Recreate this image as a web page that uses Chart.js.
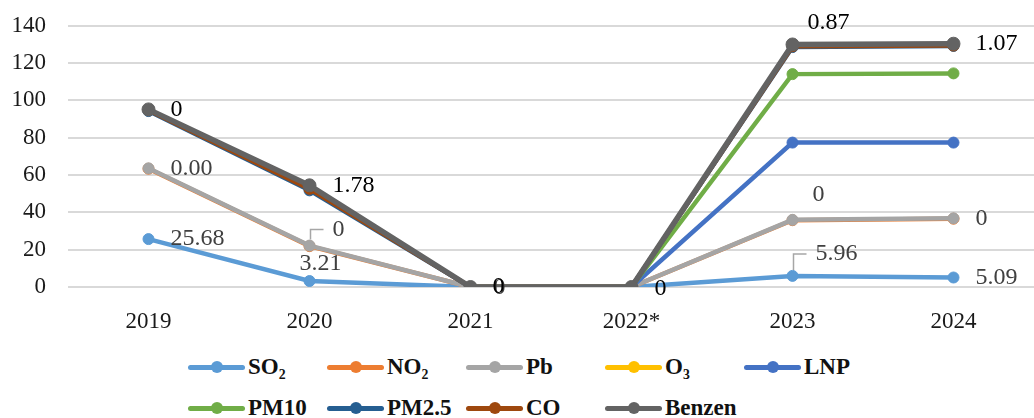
<!DOCTYPE html>
<html>
<head>
<meta charset="utf-8">
<script src="https://cdn.jsdelivr.net/npm/chart.js@4.4.0/dist/chart.umd.min.js"></script>
<style>
  body { margin: 0; background: #fff; }
  #wrap { position: relative; width: 1034px; height: 418px; overflow: hidden; }
  #chartBox { position: absolute; left: 0; top: -10px; width: 1034px; height: 345px; }
  .lg-item { position: absolute; display: flex; align-items: center; height: 30px;
             font: bold 23px "Liberation Serif", "Times New Roman", serif; color: #111; }
  .lg-line { position: relative; width: 57px; height: 5px; border-radius: 3px; margin-right: 3px; }
  .lg-dot { position: absolute; left: 23px; top: -3.5px; width: 12px; height: 12px; border-radius: 50%; }
</style>
</head>
<body>
<div id="wrap">
  <div id="chartBox"><canvas id="airChart"></canvas></div>
  <div id="legend"></div>
</div>
<script>
// data
const years = ['2019', '2020', '2021', '2022*', '2023', '2024'];
const so2 = [25.68, 3.21, 0, 0, 5.96, 5.09];
const no2 = [63.4, 21.9, 0, 0, 35.8, 36.6];
const pb = [63.6, 22.2, 0, 0, 36.0, 36.8];
const o3 = [null, null, 0, 0, null, null];
const lnp = [null, null, 0, 0, 77.4, 77.4];
const pm10 = [null, null, 0, 0, 114.1, 114.5];
const pm25 = [94.3, 51.8, 0, 0, 128.6, 129.2];
const co = [94.8, 52.6, 0, 0, 129.0, 129.4];
const benzen = [95.2, 54.5, 0, 0, 130.0, 130.4];

const seriesNames = ['SO₂', 'NO₂', 'Pb', 'O₃', 'LNP', 'PM10', 'PM2.5', 'CO', 'Benzen'];
const seriesData = [so2, no2, pb, o3, lnp, pm10, pm25, co, benzen];
const seriesColors = ['#5b9bd5', '#ed7d31', '#a5a5a5', '#ffc000', '#4472c4', '#70ad47', '#255e91', '#9e480e', '#636363'];

// data label texts as printed on the chart
const so2Labels = ['25.68', '3.21', null, null, '5.96', '5.09'];
const pbLabels = ['0.00', '0', '0', null, '0', '0'];
const benzenLabels = ['0', '1.78', '0', '0', '0.87', '1.07'];

const yTicks = [0, 20, 40, 60, 80, 100, 120, 140];

const serif = '"Liberation Serif", "Times New Roman", serif';

// label offsets from the point: [dx, dy, align, leader]
const labelSets = [
  { ds: 0, texts: so2Labels, color: '#404040',
    place: [[22, 0], [11, -17, 'center'], null, null, [23, -22, 'left', true], [22, 0]] },
  { ds: 2, texts: pbLabels, color: '#404040',
    place: [[22, 0], [23, -16, 'left', true], [23, 1], null, [20, -25], [22, 0]] },
  { ds: 8, texts: benzenLabels, color: '#000',
    place: [[22, 0], [23, 0], [22, 0], [23, 2], [15, -22], [22, 0]] }
];

const pointLabels = {
  id: 'pointLabels',
  afterDatasetsDraw(chart) {
    const ctx = chart.ctx;
    ctx.save();
    ctx.font = '24px ' + serif;
    ctx.textBaseline = 'middle';
    labelSets.forEach(set => {
      const meta = chart.getDatasetMeta(set.ds);
      set.texts.forEach((t, i) => {
        if (t == null || !set.place[i]) return;
        const pt = meta.data[i];
        const [dx, dy, align, leader] = set.place[i];
        if (leader) {
          ctx.strokeStyle = '#a6a6a6';
          ctx.lineWidth = 1.5;
          ctx.beginPath();
          ctx.moveTo(pt.x + 1, pt.y - 6);
          ctx.lineTo(pt.x + 1, pt.y + dy);
          ctx.lineTo(pt.x + 14, pt.y + dy);
          ctx.stroke();
        }
        ctx.fillStyle = set.color;
        ctx.textAlign = align || 'left';
        ctx.fillText(t, pt.x + dx, pt.y + dy);
      });
    });
    ctx.restore();
  }
};

const datasets = seriesNames.map((name, i) => ({
  label: name,
  data: seriesData[i],
  borderColor: seriesColors[i],
  backgroundColor: seriesColors[i],
  pointBackgroundColor: seriesColors[i],
  pointBorderColor: seriesColors[i],
  borderWidth: i === 8 ? 5.5 : 4.5,
  pointRadius: i === 8 ? 6.5 : 5.5,
  pointBorderWidth: 1,
  tension: 0,
  spanGaps: false,
  order: seriesNames.length - 1 - i
}));

const ctx = document.getElementById('airChart').getContext('2d');
new Chart(ctx, {
  type: 'line',
  data: { labels: years, datasets: datasets },
  options: {
    responsive: true,
    maintainAspectRatio: false,
    animation: false,
    layout: { autoPadding: false, padding: { top: 16, right: 0, bottom: 0, left: 0 } },
    plugins: { legend: { display: false }, tooltip: { enabled: false } },
    scales: {
      x: {
        offset: true,
        grid: { display: false },
        border: { display: false },
        ticks: { color: '#1a1a1a', padding: 13, font: { family: serif, size: 23 } },
        afterFit: s => { s.height = 48; }
      },
      y: {
        min: 0,
        max: 140,
        afterBuildTicks: s => { s.ticks = yTicks.map(v => ({ value: v })); },
        grid: { color: '#d9d9d9', lineWidth: 2, drawTicks: false },
        border: { display: false },
        ticks: { color: '#1a1a1a', padding: 22, font: { family: serif, size: 23 } },
        afterFit: s => { s.width = 68; }
      }
    }
  },
  plugins: [pointLabels]
});

// legend laid out as in the picture: 5 columns, 2 rows
const legend = document.getElementById('legend');
seriesNames.forEach((name, i) => {
  const col = i % 5, row = Math.floor(i / 5);
  const item = document.createElement('div');
  item.className = 'lg-item';
  item.style.left = (188 + col * 139) + 'px';
  item.style.top = (352 + row * 41) + 'px';
  item.innerHTML = '<span class="lg-line" style="background:' + seriesColors[i] + '">' +
    '<span class="lg-dot" style="background:' + seriesColors[i] + '"></span></span>' + name;
  legend.appendChild(item);
});
</script>
</body>
</html>
